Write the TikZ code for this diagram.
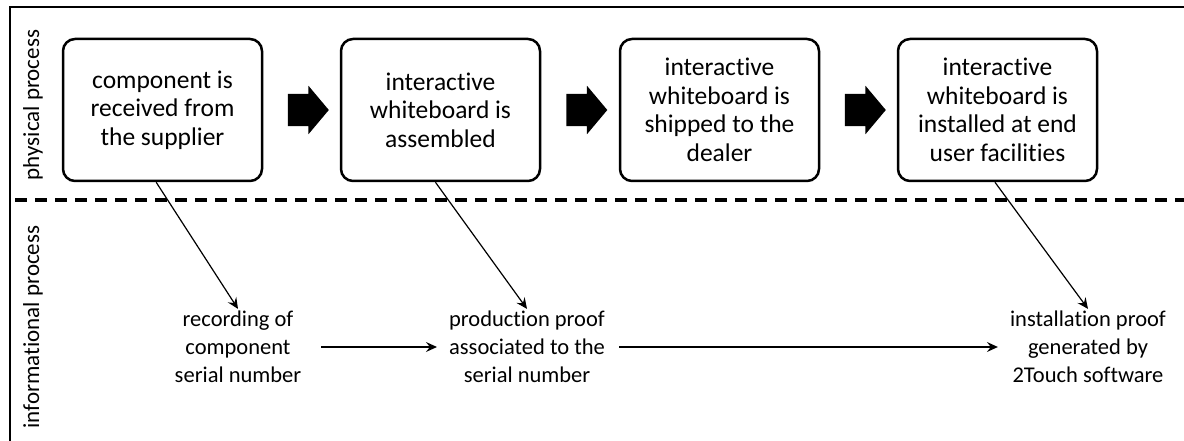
\documentclass[tikz,border=0pt]{standalone}
\usepackage{fontspec}
\setmainfont{Carlito}[Ligatures={NoCommon}]
\usetikzlibrary{arrows.meta,shapes.arrows,calc}
\begin{document}
\begin{tikzpicture}[x=1pt,y=-1pt,
	stage/.style={ draw, line width=2.5pt, rounded corners=12pt, minimum width=199pt, minimum height=142pt, inner sep=0pt, align=center, font=\fontsize{25.5}{28.5}\selectfont },
	record/.style={ inner sep=2pt, align=center, font=\fontsize{22.5}{28}\selectfont },
	lane/.style={ rotate=90, font=\fontsize{23}{24}\selectfont },
	blockarrow/.style={ single arrow, fill, draw=none, inner xsep=0pt, inner ysep=16pt, minimum height=41pt, single arrow head extend=8pt, single arrow tip angle=100 },
	link/.style={ line width=1.2pt, -{Stealth[length=11pt,width=10pt,inset=4pt]} }
]
\useasboundingbox (0,0) rectangle (1184,441);

% frame and swimlanes
\draw[line width=2.5pt] (10,441) -- (10,7) -- (1184,7);
\draw[line width=3pt, dash pattern=on 12pt off 8pt] (15,200) -- (1184,200);
\node at (33,105) (lp) [lane] {physical process};
\node at (33,327) (li) [lane] {informational process};

% physical process
\node at (162.5,110) (s1) [stage] {component is\\received from\\the supplier};
\node at (440.5,110) (s2) [stage] {interactive\\whiteboard is\\assembled};
\node at (719.5,110) (s3) [stage] {interactive\\whiteboard is\\shipped to the\\dealer};
\node at (997.5,110) (s4) [stage] {interactive\\whiteboard is\\installed at end\\user facilities};
\foreach \a/\b in {s1/s2,s2/s3,s3/s4}
	\node at ($(\a.east)!0.5!(\b.west)$) (\a\b) [blockarrow] {};

% informational process
\node at (238,347) (r1) [record] {recording of\\component\\serial number};
\node at (527,347) (r2) [record] {production proof\\associated to the\\serial number};
\node at (1088,347) (r3) [record] {installation proof\\generated by\\2Touch software};
\foreach \s/\r/\ang in {s1/r1/265,s2/r2/266,s4/r3/268}
	\draw[link] (\s.\ang) -- (\r.north);
\draw[link, shorten <=18pt, shorten >=10pt] (r1) -- (r2);
\draw[link, shorten <=12pt, shorten >=10pt] (r2) -- (r3);

\end{tikzpicture}
\end{document}
